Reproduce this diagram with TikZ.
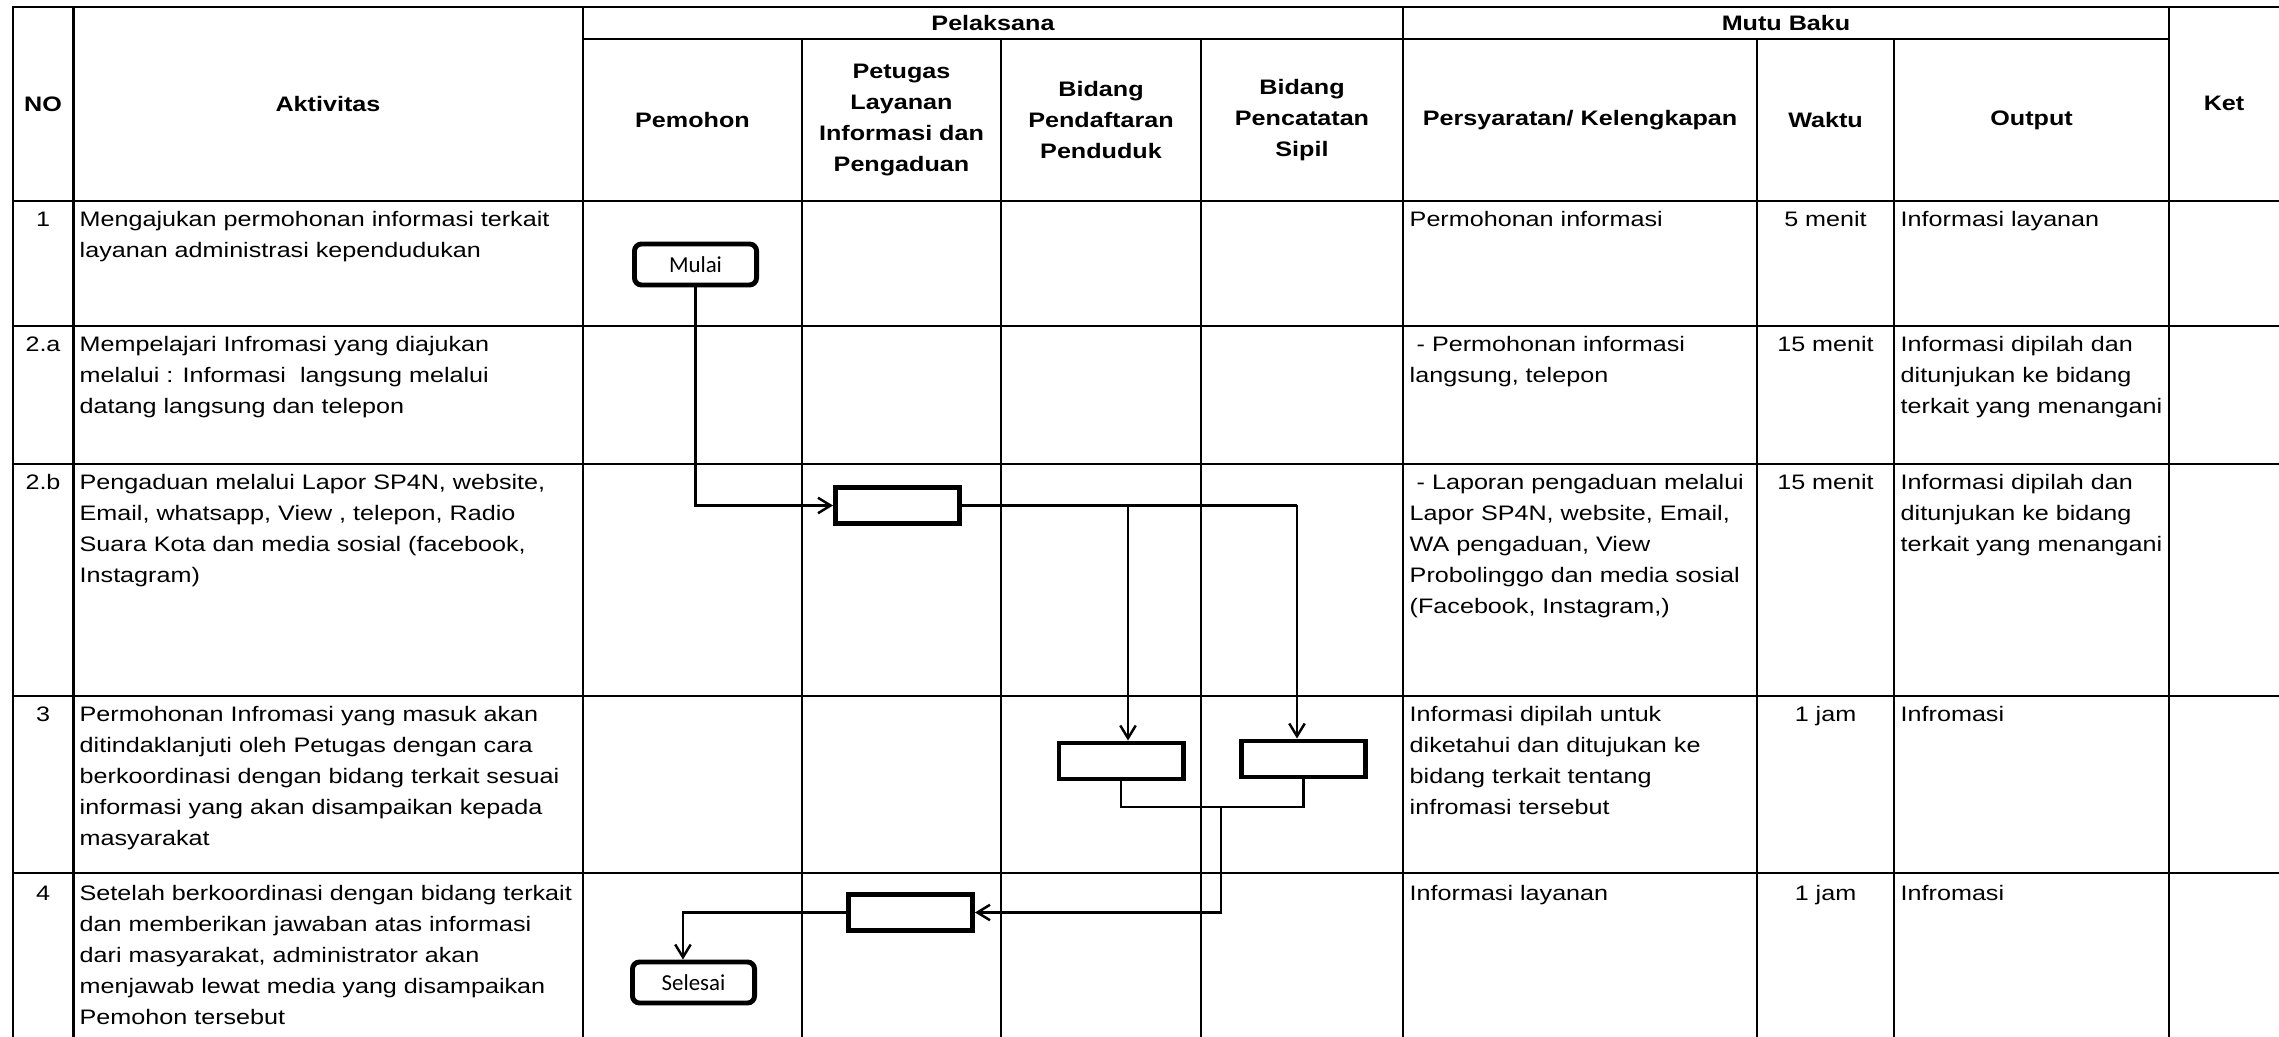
\documentclass[tikz,border=0pt]{standalone}
\usepackage{fontspec}
\setmainfont{Liberation Sans}[FakeStretch=1.2]
\newfontfamily\boxfont{Carlito}
\usetikzlibrary{arrows.meta}

\begin{document}
\begin{tikzpicture}[x=0.01cm, y=-0.01cm,
    tabline/.style={line width=0.7pt, line cap=rect},
    txt/.style={inner sep=0pt, align=left, font=\fontsize{5.96}{8.76}\selectfont},
    cell/.style={txt, anchor=north west},
    num/.style={txt, anchor=north, align=center},
    head/.style={txt, align=center, font=\fontsize{5.96}{8.8}\selectfont\bfseries},
    proc/.style={draw, line width=1.4pt, minimum width=1.24cm, minimum height=0.36cm, inner sep=0pt},
    term/.style={draw, line width=1.4pt, rounded corners=2pt, minimum width=1.22cm, minimum height=0.41cm, inner sep=0pt, font=\boxfont\fontsize{6.5}{7}\selectfont},
    flow/.style={line width=0.7pt},
    arr/.style={flow, -{Straight Barb[length=3.6pt, width=4.4pt]}}]
    \useasboundingbox (0,0) rectangle (2279,1037);

    % table lines
    \draw[tabline] (13,7) -- (2279,7);
    \draw[tabline] (583,39) -- (2169,39);
    \foreach \y in {201,326,464,696,873}
        \draw[tabline] (13,\y) -- (2279,\y);
    \foreach \x in {13,73.5,583,1403,2169}
        \draw[tabline] (\x,7) -- (\x,1037);
    \foreach \x in {802,1001,1201,1757,1894}
        \draw[tabline] (\x,39) -- (\x,1037);

    % header
    \node[head] (hNo) at (43,104) {NO};
    \node[head] (hAkt) at (328,104) {Aktivitas};
    \node[head] (hPel) at (993,23) {Pelaksana};
    \node[head] (hMutu) at (1786,23) {Mutu Baku};
    \node[head] (hKet) at (2224,103) {Ket};
    \node[head] (hPem) at (692.5,120) {Pemohon};
    \node[head] (hPtg) at (901.5,120) {Petugas\\Layanan\\Informasi dan\\Pengaduan};
    \node[head] (hBpp) at (1101,120) {Bidang\\Pendaftaran\\Penduduk};
    \node[head] (hBcs) at (1302,120) {Bidang\\Pencatatan\\Sipil};
    \node[head] (hSyarat) at (1580,120) {Persyaratan/ Kelengkapan};
    \node[head] (hWaktu) at (1825.5,120) {Waktu};
    \node[head] (hOut) at (2031.5,120) {Output};

    % row 1
    \node[num] (no1) at (43,211) {1};
    \node[cell] (akt1) at (79,211) {Mengajukan permohonan informasi terkait\\layanan administrasi kependudukan};
    \node[cell] (syarat1) at (1409,211) {Permohonan informasi};
    \node[num] (waktu1) at (1825.5,211) {5 menit};
    \node[cell] (out1) at (1900,211) {Informasi layanan};

    % row 2.a
    \node[num] (no2a) at (43,336) {2.a};
    \node[cell] (akt2a) at (79,336) {Mempelajari Infromasi yang diajukan\\melalui : Informasi~ langsung melalui\\datang langsung dan telepon};
    \node[cell] (syarat2a) at (1409,336) {\ - Permohonan informasi\\langsung, telepon};
    \node[num] (waktu2a) at (1825.5,336) {15 menit};
    \node[cell] (out2a) at (1900,336) {Informasi dipilah dan\\ditunjukan ke bidang\\terkait yang menangani};

    % row 2.b
    \node[num] (no2b) at (43,474) {2.b};
    \node[cell] (akt2b) at (79,474) {Pengaduan melalui Lapor SP4N, website,\\Email, whatsapp, View , telepon, Radio\\Suara Kota dan media sosial (facebook,\\Instagram)};
    \node[cell] (syarat2b) at (1409,474) {\ - Laporan pengaduan melalui\\Lapor SP4N, website, Email,\\WA pengaduan, View\\Probolinggo dan media sosial\\(Facebook, Instagram,)};
    \node[num] (waktu2b) at (1825.5,474) {15 menit};
    \node[cell] (out2b) at (1900,474) {Informasi dipilah dan\\ditunjukan ke bidang\\terkait yang menangani};

    % row 3
    \node[num] (no3) at (43,706) {3};
    \node[cell] (akt3) at (79,706) {Permohonan Infromasi yang masuk akan\\ditindaklanjuti oleh Petugas dengan cara\\berkoordinasi dengan bidang terkait sesuai\\informasi yang akan disampaikan kepada\\masyarakat};
    \node[cell] (syarat3) at (1409,706) {Informasi dipilah untuk\\diketahui dan ditujukan ke\\bidang terkait tentang\\infromasi tersebut};
    \node[num] (waktu3) at (1825.5,706) {1 jam};
    \node[cell] (out3) at (1900,706) {Infromasi};

    % row 4
    \node[num] (no4) at (43,885) {4};
    \node[cell] (akt4) at (79,885) {Setelah berkoordinasi dengan bidang terkait\\dan memberikan jawaban atas informasi\\dari masyarakat, administrator akan\\menjawab lewat media yang disampaikan\\Pemohon tersebut};
    \node[cell] (syarat4) at (1409,885) {Informasi layanan};
    \node[num] (waktu4) at (1825.5,885) {1 jam};
    \node[cell] (out4) at (1900,885) {Infromasi};

    % flow
    \node[term] (mulai) at (695.5,264.5) {Mulai};
    \node[proc] (ptg1) at (897.5,505.5) {};
    \node[proc] (bpp1) at (1121,761) {};
    \node[proc] (bcs1) at (1303.5,759) {};
    \node[proc] (ptg2) at (910.5,912.5) {};
    \node[term] (selesai) at (693.5,982.5) {Selesai};
    \coordinate (toBpp) at (1128,505.5);
    \coordinate (toBcs) at (1297,505.5);
    \coordinate (join) at (1221,807);

    \draw[arr] (mulai.south) |- (ptg1.west);
    \draw[flow] (ptg1.east) -- (toBcs);
    \draw[arr] (toBpp) -- (toBpp |- bpp1.north);
    \draw[arr] (toBcs) -- (toBcs |- bcs1.north);
    \draw[flow] (bpp1.south) |- (join) -| (bcs1.south);
    \draw[arr] (join) |- (ptg2.east);
    \draw[arr] (ptg2.west) -| ([xshift=-3pt]selesai.north);
\end{tikzpicture}
\end{document}
